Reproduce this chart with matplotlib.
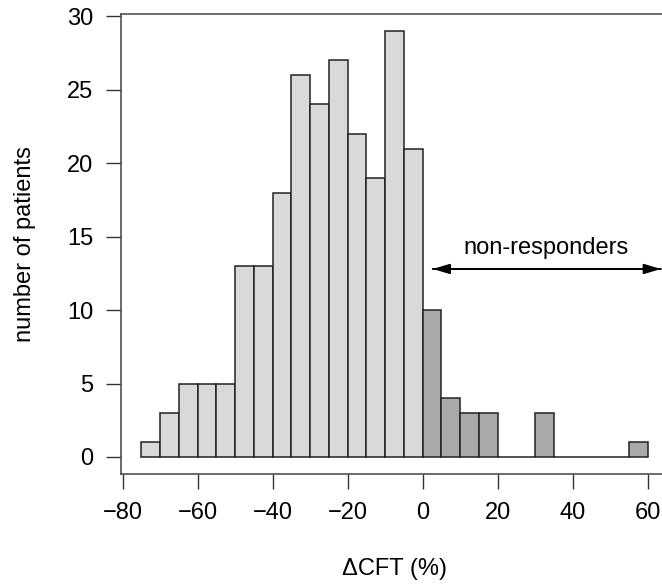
import matplotlib
matplotlib.use('Agg')
import matplotlib.pyplot as plt
import numpy as np

plt.rcParams['font.family'] = ['Liberation Sans', 'DejaVu Sans']
plt.rcParams['axes.unicode_minus'] = True

# histogram bins (width 5, from -75 to 60) and patient counts
bin_width = 5
bin_left = np.arange(-75, 60, bin_width)
counts = [1, 3, 5, 5, 5, 13, 13, 18, 26, 24, 27, 22, 19, 29, 21,
          10, 4, 3, 3, 0, 0, 3, 0, 0, 0, 0, 1]
x_ticks = [-80, -60, -40, -20, 0, 20, 40, 60]
y_ticks = [0, 5, 10, 15, 20, 25, 30]

fig = plt.figure(figsize=(6.62, 5.85), dpi=100)
# axes box runs past the right edge of the picture (cropped like the original)
ax = fig.add_axes([121/662, 111/585, 547/662, 460/585])

colors = ['#d9d9d9' if b < 0 else '#a9a9a9' for b in bin_left]
ax.bar(bin_left, counts, width=bin_width, align='edge', color=colors,
       edgecolor='#222222', linewidth=1.1)

ax.set_xlim(-80.4, 65.4)
ax.set_ylim(-1.16, 30.16)

ax.set_xticks(x_ticks)
ax.set_yticks(y_ticks)
ax.tick_params(axis='both', direction='out', length=11, width=1.0,
               color='#333333', labelsize=17)
ax.tick_params(axis='y', pad=9)
ax.tick_params(axis='x', pad=9)

for s in ax.spines.values():
    s.set_color('#444444')
    s.set_linewidth(1.1)

ax.set_xlabel('\u0394CFT (%)', fontsize=17, labelpad=25)
ax.set_ylabel('number of patients', fontsize=17, labelpad=22)

# non-responders arrow
ax.annotate('', xy=(2.7, 12.8), xytext=(63.5, 12.8),
            arrowprops=dict(arrowstyle='-|>,head_length=1.0,head_width=0.3',
                            color='black', lw=1.4, shrinkA=0, shrinkB=0))
ax.annotate('', xy=(63.5, 12.8), xytext=(2.7, 12.8),
            arrowprops=dict(arrowstyle='-|>,head_length=1.0,head_width=0.3',
                            color='black', lw=1.4, shrinkA=0, shrinkB=0))
ax.text(32.8, 14.2, 'non-responders', ha='center', va='center', fontsize=17)

fig.savefig('out.png', dpi=100)
